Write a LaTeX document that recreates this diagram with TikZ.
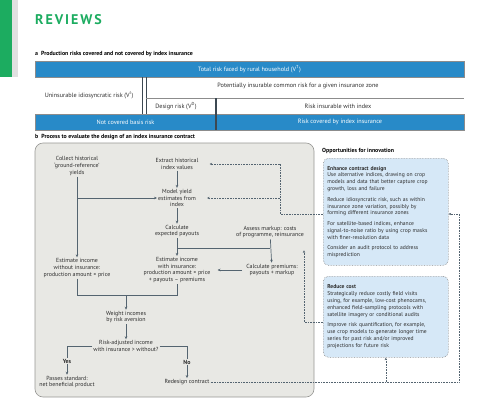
\documentclass[tikz,border=0pt]{standalone}
\usepackage{fontspec}
\setmainfont{PT Sans}
\usetikzlibrary{arrows.meta, positioning, calc}
\definecolor{natGreen}{RGB}{28,172,96}
\definecolor{barBlue}{RGB}{40,138,200}
\definecolor{panelGray}{RGB}{232,232,228}
\definecolor{panelEdge}{RGB}{150,150,148}
\definecolor{boxBlue}{RGB}{214,232,247}
\definecolor{lineSlate}{RGB}{84,100,112}
\definecolor{darkSlate}{RGB}{60,72,82}
\definecolor{edgeGray}{RGB}{140,140,140}
\definecolor{textGray}{RGB}{45,45,45}

\begin{document}
\begin{tikzpicture}[x=1pt, y=-1pt,
    proc/.style={align=center, font=\fontsize{5.9}{6.8}\selectfont, text=textGray, inner sep=1pt},
    riskbar/.style={fill=barBlue, draw=edgeGray, line width=0.3pt, text=white,
                    font=\fontsize{6.2}{7}\selectfont, inner sep=0pt, minimum height=16pt},
    risklbl/.style={font=\fontsize{6.2}{7}\selectfont, text=textGray, inner sep=1pt},
    flow/.style={-{Stealth[length=3pt,width=2.6pt]}, draw=lineSlate, line width=0.7pt},
    link/.style={draw=lineSlate, line width=0.7pt},
    dots/.style={draw=lineSlate, densely dotted, line width=0.6pt},
    idea/.style={draw=edgeGray, densely dotted, line width=0.6pt, fill=boxBlue,
                 rounded corners=5pt, text width=117pt, inner sep=4pt, align=left,
                 anchor=north west, font=\fontsize{5.6}{6.9}\selectfont, text=textGray}
  ]
    \useasboundingbox (0,0) rectangle (500,407);

    % journal header
    \fill[natGreen] (0,0) rectangle (12,77);
    \fill[black!12] (12,0) rectangle (18,77);
    \node[anchor=west, text=natGreen, inner sep=0pt,
          font=\fontsize{14}{14}\selectfont\bfseries] (rev) at (35,20)
      {\addfontfeatures{LetterSpace=14}REVIEWS};

    % panel a
    \node[anchor=west, inner sep=0pt, font=\fontsize{5.9}{7}\selectfont\bfseries] (ta) at (35,54)
      {a\enspace Production risks covered and not covered by index insurance};
    \node[riskbar, minimum width=429pt] (total) at (249.5,69)
      {Total risk faced by rural household (V\textsuperscript{T})};
    \node[riskbar, minimum width=181pt] (basis) at (125.5,122) {Not covered basis risk};
    \node[riskbar, minimum width=248pt] (covered) at (340,122) {Risk covered by index insurance};
    \node[risklbl] (idio) at (89,95) {Uninsurable idiosyncratic risk (V\textsuperscript{I})};
    \node[risklbl] (common) at (298,86) {Potentially insurable common risk for a given insurance zone};
    \node[risklbl] (design) at (176,106) {Design risk (V\textsuperscript{D})};
    \node[risklbl] (insurable) at (338,106) {Risk insurable with index};
    \draw[darkSlate, line width=0.5pt] (142,77) -- (142,114) (146,77) -- (146,114);
    \draw[edgeGray, line width=0.5pt] (146,98) -- (464,98);
    \draw[darkSlate, line width=2pt] (216,98) -- (216,130);

    % panel b
    \node[anchor=west, inner sep=0pt, font=\fontsize{5.9}{7}\selectfont\bfseries] (tb) at (35,137)
      {b\enspace Process to evaluate the design of an index insurance contract};
    \draw[panelEdge, fill=panelGray, line width=0.6pt, rounded corners=8pt] (35,143) rectangle (314,397);

    \node[proc] (collect) at (77,166) {Collect historical\\`ground-reference'\\yields};
    \node[proc] (extract) at (177,164) {Extract historical\\index values};
    \node[proc] (model) at (177,198) {Model yield\\estimates from\\index};
    \node[proc] (payouts) at (177,231) {Calculate\\expected payouts};
    \node[proc] (markup) at (270,232) {Assess markup: costs\\of programme, reinsurance};
    \node[proc] (incnone) at (77,268) {Estimate income\\without insurance:\\production amount × price};
    \node[proc] (incins) at (177,270) {Estimate income\\with insurance:\\production amount × price\\+ payouts – premiums};
    \node[proc] (premium) at (272,270) {Calculate premiums:\\payouts + markup};
    \node[proc] (weight) at (126,317) {Weight incomes\\by risk aversion};
    \node[proc] (decide) at (126,346) {Risk-adjusted income\\with insurance > without?};
    \node[proc, font=\fontsize{5.9}{6.8}\selectfont\bfseries] (yes) at (67,361) {Yes};
    \node[proc, font=\fontsize{5.9}{6.8}\selectfont\bfseries] (no) at (187,362) {No};
    \node[proc] (pass) at (67,382) {Passes standard:\\net beneficial product};
    \node[proc] (redesign) at (187,382) {Redesign contract};

    \coordinate (lvl) at (0,248);
    \coordinate (join) at (126,295);

    \draw[flow] (collect) -- (incnone);
    \draw[flow] (collect.south |- model) -- (model.west);
    \draw[flow] (extract) -- (model);
    \draw[flow] (model) -- (payouts);
    \draw[flow] (payouts) -- (incins);
    \draw[flow] (markup) -- (premium);
    \draw[link] (payouts.south |- lvl) -- (markup.south |- lvl);
    \draw[flow, shorten <=3pt, shorten >=6pt] (premium) -- (incins);
    \draw[link] (incnone.south) -- (incnone.south |- join) -- (incins.south |- join) -- (incins.south);
    \draw[flow] (join) -- (weight);
    \draw[flow] (weight) -- (decide);
    \draw[link] (decide.west) -| (yes.north);
    \draw[link] (decide.east) -| (no.north);
    \draw[flow] (yes) -- (pass);
    \draw[flow] (no) -- (redesign);

    % opportunities
    \node[anchor=west, inner sep=0pt, font=\fontsize{5.9}{7}\selectfont\bfseries] (opp) at (322,151)
      {Opportunities for innovation};
    \node[idea, minimum height=107pt] (enhance) at (323,158) {%
      \textbf{Enhance contract design}\\
      Use alternative indices, drawing on crop\\
      models and data that better capture crop\\
      growth, loss and failure\\[3.5pt]
      Reduce idiosyncratic risk, such as within\\
      insurance zone variation, possibly by\\
      forming different insurance zones\\[3.5pt]
      For satellite-based indices, enhance\\
      signal-to-noise ratio by using crop masks\\
      with finer-resolution data\\[3.5pt]
      Consider an audit protocol to address\\
      misprediction};
    \node[idea, minimum height=81pt] (reduce) at (323,276) {%
      \textbf{Reduce cost}\\
      Strategically reduce costly field visits\\
      using, for example, low-cost phenocams,\\
      enhanced field-sampling protocols with\\
      satellite imagery or conditional audits\\[3.5pt]
      Improve risk quantification, for example,\\
      use crop models to generate longer time\\
      series for past risk and/or improved\\
      projections for future risk};

    \coordinate (rc) at (459,382);
    \coordinate (rt) at (459,214);
    \coordinate (ej) at (280,214);
    \coordinate (mj) at (304,322);

    \draw[dots, -{Stealth[length=2.6pt,width=2.4pt]}] (redesign.east) -- (rc) -- (rt) -- (enhance.east |- rt);
    \draw[dots, -{Stealth[length=2.6pt,width=2.4pt]}] (reduce.south |- rc) -- (reduce.south);
    \draw[dots] (enhance.west |- ej) -- (ej) -- (ej |- extract);
    \draw[dots, -{Stealth[length=2.6pt,width=2.4pt]}, shorten >=10pt] (ej |- extract) -- (extract.east);
    \draw[dots, -{Stealth[length=2.6pt,width=2.4pt]}, shorten >=10pt] (ej |- model) -- (model.east);
    \draw[dots] (reduce.west |- mj) -- (mj);
    \draw[dots, -{Stealth[length=2.6pt,width=2.4pt]}, shorten >=11pt] (mj) -- (mj |- markup.south);
  \end{tikzpicture}
\end{document}
